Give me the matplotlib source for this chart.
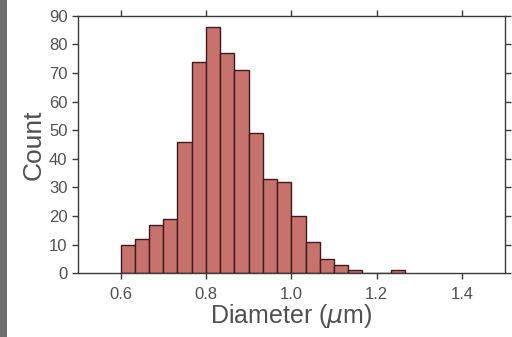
import numpy as np
import matplotlib.pyplot as plt
from matplotlib.patches import Rectangle

# histogram of particle diameters, bins of 1/30 um starting at 0.6 um
bin_start = 0.6
bin_width = 1 / 30
counts = [10, 12, 17, 19, 46, 74, 86, 77, 71, 49, 33, 32, 20, 11, 5, 3, 1, 0, 0, 1]

x_ticks = [0.6, 0.8, 1.0, 1.2, 1.4]
x_tick_labels = ["0.6", "0.8", "1.0", "1.2", "1.4"]
y_ticks = [0, 10, 20, 30, 40, 50, 60, 70, 80, 90]

text_color = "#505050"
spine_color = "#3a3a3a"

plt.rcParams["font.family"] = ["Liberation Sans", "DejaVu Sans"]

fig = plt.figure(figsize=(5.12, 3.37), dpi=100)
ax = fig.add_axes([0.152, 0.189, 0.834, 0.764])

left_edges = bin_start + bin_width * np.arange(len(counts))
ax.bar(left_edges, counts, width=bin_width, align="edge",
       color="#c8726d", edgecolor="#3b1c1a", linewidth=1.0)

ax.set_xlim(0.5, 1.5)
ax.set_ylim(0, 90)
ax.set_xticks(x_ticks)
ax.set_xticklabels(x_tick_labels)
ax.set_yticks(y_ticks)

ax.tick_params(axis="both", direction="out", length=4, width=1,
               color=spine_color, labelcolor=text_color, labelsize=12)
ax.tick_params(axis="x", pad=6)
ax.tick_params(top=True, right=True, labeltop=False, labelright=False)
for spine in ax.spines.values():
    spine.set_color(spine_color)
    spine.set_linewidth(1.0)

ax.set_xlabel("Diameter ($\\mu$m)", fontsize=18, color=text_color, labelpad=0)
ax.set_ylabel("Count", fontsize=19, color=text_color, labelpad=2)

# grey strip on the left edge of the source image
fig.patches.append(Rectangle((0, 0), 0.014, 1, transform=fig.transFigure,
                             facecolor="#6e6e6e", edgecolor="none"))

fig.savefig("out.png", dpi=100)
